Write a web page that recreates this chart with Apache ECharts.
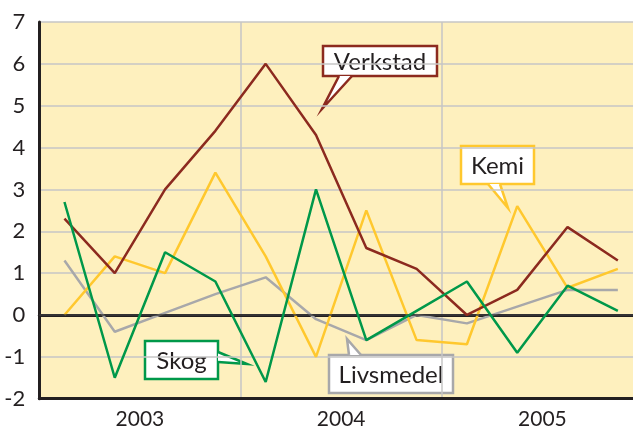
<!DOCTYPE html>
<html><head><meta charset="utf-8">
<script src="https://cdn.jsdelivr.net/npm/echarts@6/dist/echarts.min.js"></script>
<style>html,body{margin:0;padding:0;overflow:hidden;background:#fff}#c{width:643px;height:432px}</style>
</head><body><div id="c"></div>
<script>
var quarters = ['2003 K1','2003 K2','2003 K3','2003 K4','2004 K1','2004 K2','2004 K3','2004 K4','2005 K1','2005 K2','2005 K3','2005 K4'];
var years = ['2003','2004','2005'];
var verkstad  = [2.3, 1.0, 3.0, 4.4, 6.0, 4.3, 1.6, 1.1, 0.0, 0.6, 2.1, 1.3];
var kemi      = [0.0, 1.4, 1.0, 3.4, 1.4, -1.0, 2.5, -0.6, -0.7, 2.6, 0.65, 1.1];
var skog      = [2.7, -1.5, 1.5, 0.8, -1.6, 3.0, -0.6, 0.1, 0.8, -0.9, 0.7, 0.1];
var livsmedel = [1.3, -0.4, 0.05, 0.5, 0.9, -0.1, -0.6, 0.0, -0.2, 0.2, 0.6, 0.6];
var yMin = -2, yMax = 7, yStep = 1;

var TXT = '#231F20';
var FONT = 'Lato';
var C = {verkstad:'#8C2A1F', kemi:'#FFC82E', skog:'#00984A', livsmedel:'#A8A8AA'};

function callout(text, color, box, base1, base2, tip) {
  return {
    type: 'group', z: 100,
    children: [
      {type:'rect', shape:{x:box[0], y:box[1], width:box[2], height:box[3]},
        style:{fill:'#fff', stroke:color, lineWidth:2.5}},
      {type:'polygon', shape:{points:[base1, tip, base2]}, style:{fill:'#fff', stroke:null}},
      {type:'polyline', shape:{points:[base1, tip, base2]}, style:{stroke:color, lineWidth:2.5, fill:null}},
      {type:'text', x:box[0]+box[2]/2, y:box[1]+box[3]/2+1,
        style:{text:text, fill:TXT, font:'24px "'+FONT+'"', align:'center', verticalAlign:'middle'}}
    ]
  };
}

var chart = echarts.init(document.getElementById('c'), null, {renderer:'canvas'});
function ser(name, data, color, z) {
  return {name:name, type:'line', data:data, xAxisIndex:0, symbol:'none', z:z,
    lineStyle:{color:color, width:2.5}, itemStyle:{color:color}, animation:false};
}
var s = [
  ser('Livsmedel', livsmedel, C.livsmedel, 3),
  ser('Kemi', kemi, C.kemi, 4),
  ser('Verkstad', verkstad, C.verkstad, 5),
  ser('Skog', skog, C.skog, 6)
];
s[0].markLine = {silent:true, symbol:'none', label:{show:false}, animation:false,
  lineStyle:{color:'#3a3a3a', width:1.5, type:'solid'}, data:[{yAxis:0}]};

chart.setOption({
  animation:false,
  grid:{left:39.3, right:0, top:22, bottom:33.3, show:true, backgroundColor:'#FEF0BE',
    borderWidth:0},
  xAxis:[
    {type:'category', data:quarters, boundaryGap:true, position:'top',
      axisLine:{show:true, lineStyle:{color:TXT, width:3}}, axisTick:{show:false},
      axisLabel:{show:false}, splitLine:{show:false}},
    {type:'category', data:years, boundaryGap:true, position:'bottom',
      axisLine:{show:true, lineStyle:{color:TXT, width:3}}, axisTick:{show:false},
      axisLabel:{color:TXT, fontSize:21, fontFamily:FONT, margin:10},
      splitLine:{show:true, interval:0, lineStyle:{color:'#C6C6C6', width:1.5}}}
  ],
  yAxis:{type:'value', min:yMin, max:yMax, interval:yStep,
    axisLine:{show:true, onZero:false, lineStyle:{color:TXT, width:3}}, axisTick:{show:false},
    axisLabel:{color:TXT, fontSize:22, fontFamily:FONT, margin:14},
    splitLine:{show:true, lineStyle:{color:'#C6C6C6', width:1.5}}},
  series:s,
  graphic:[
    callout('Verkstad', C.verkstad, [323,46,114,30], [339,76], [352,76], [322,109]),
    callout('Kemi', C.kemi, [461,146,73,38], [488,184], [500,184], [508,208]),
    callout('Skog', C.skog, [145,341,73,38], [218,352], [218,362], [247,364]),
    callout('Livsmedel', C.livsmedel, [329,355,124,38], [349,355], [361,355], [347,339])
  ]
});
</script></body></html>
